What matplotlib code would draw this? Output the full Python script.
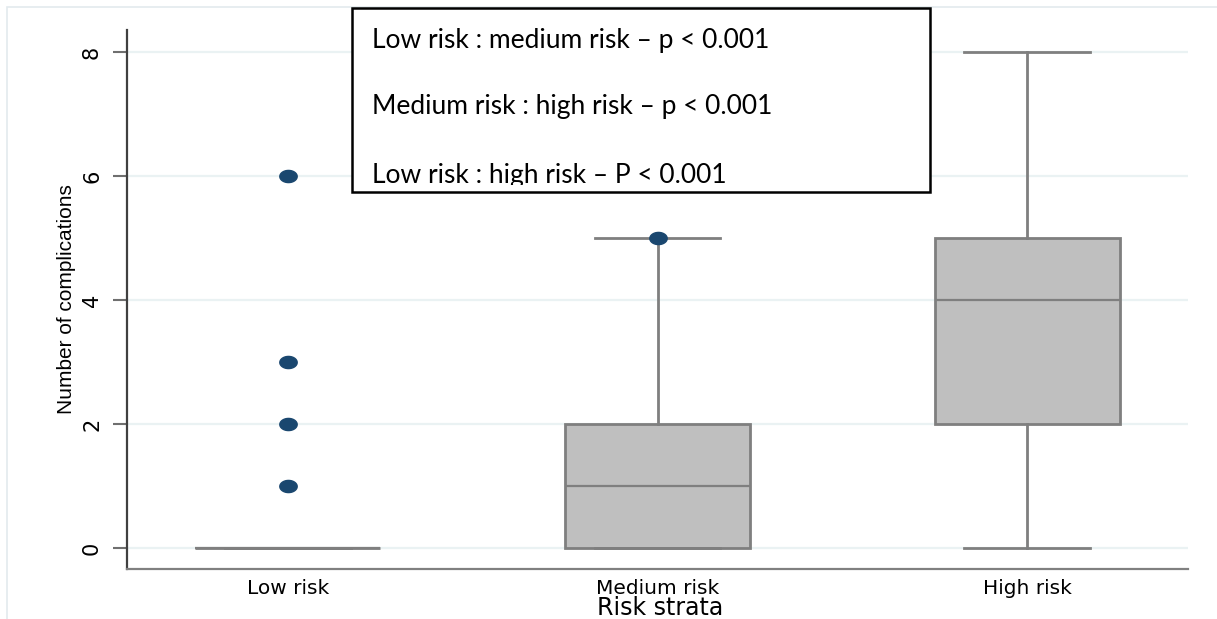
import numpy as np
import matplotlib
matplotlib.use('Agg')
import matplotlib.pyplot as plt
from matplotlib.path import Path
from matplotlib.patches import Rectangle
from matplotlib.transforms import Bbox, TransformedBbox

# Data
categories = ['Low risk', 'Medium risk', 'High risk']
q1 = [0, 0, 2]
median = [0, 1, 4]
q3 = [0, 2, 5]
whisker_lo = [0, 0, 0]
whisker_hi = [0, 5, 8]
outliers = [[1, 2, 3, 6], [5], []]
y_ticks = [0, 2, 4, 6, 8]
notes = ['Low risk : medium risk \u2013 p < 0.001',
         'Medium risk : high risk \u2013 p < 0.001',
         'Low risk : high risk \u2013 P < 0.001']

# Colors
c_box = '#bfbfbf'
c_edge = '#7f7f7f'
c_dot = '#1a476f'
c_grid = '#eaf2f3'

W, H = 1217, 619
fig = plt.figure(figsize=(W / 100, H / 100), dpi=100, facecolor='white')
ax = fig.add_axes([127 / W, 50 / H, (1188 - 127) / W, (589 - 50) / H])

# faint outer frame of the graph region (left and top edges show)
fig.patches.append(Rectangle((7 / W, -0.05), 1.1, 1 - 7 / H + 0.05,
                             transform=fig.transFigure, fill=False,
                             edgecolor='#e3eaee', linewidth=1.2, zorder=0))

stats = []
for i, name in enumerate(categories):
    stats.append(dict(label=name, q1=q1[i], med=median[i], q3=q3[i],
                      whislo=whisker_lo[i], whishi=whisker_hi[i], fliers=outliers[i]))

# ellipse marker (wider than tall)
t = np.linspace(0, 2 * np.pi, 60)
ellipse = Path(np.column_stack([np.cos(t), 0.7 * np.sin(t)]), closed=True)

positions = np.arange(1, len(categories) + 1)
ax.bxp(stats, positions=positions, widths=0.5, capwidths=0.34, patch_artist=True,
       boxprops=dict(facecolor=c_box, edgecolor=c_edge, linewidth=2),
       whiskerprops=dict(color=c_edge, linewidth=2),
       capprops=dict(color=c_edge, linewidth=2),
       medianprops=dict(color=c_edge, linewidth=1.6),
       flierprops=dict(marker=ellipse, markersize=12.5, markerfacecolor=c_dot,
                       markeredgecolor=c_dot, linestyle='none'),
       zorder=3)

ax.set_xlim(0.565, 3.435)
ax.set_ylim(-0.34, 8.355)
ax.set_yticks(y_ticks)
ax.set_yticklabels([str(v) for v in y_ticks], rotation=90, va='center',
                   fontsize=15, family='DejaVu Sans')
ax.set_xticks(positions)
ax.set_xticklabels(categories, fontsize=14.5, family='DejaVu Sans')
ax.tick_params(axis='x', length=0, pad=7)
ax.tick_params(axis='y', length=10, width=1.5, color='#6f6f6f', pad=8)

ax.yaxis.grid(True, color=c_grid, linewidth=1.6, zorder=0)
ax.set_axisbelow(True)

for s in ['top', 'right']:
    ax.spines[s].set_visible(False)
ax.spines['left'].set_color('#404040')
ax.spines['left'].set_linewidth(1.6)
ax.spines['bottom'].set_color('#808080')
ax.spines['bottom'].set_linewidth(1.6)

ax.set_ylabel('Number of complications', fontsize=15, family='Liberation Sans')
ax.yaxis.set_label_coords((76 - 127) / (1188 - 127), 0.5)
ax.set_xlabel('Risk strata', fontsize=17, family='DejaVu Sans')
ax.xaxis.label.set_va('baseline')
ax.xaxis.set_label_coords((660 - 127) / (1188 - 127), -(615 - 569) / (589 - 50))

# annotation box with p-values (third line is cut off inside the box)
bx0, by0, bx1, by1 = 352 / W, 1 - 192 / H, 930 / W, 1 - 8 / H
fig.patches.append(Rectangle((bx0, by0), bx1 - bx0, by1 - by0, transform=fig.transFigure,
                             facecolor='white', edgecolor='black', linewidth=1.8, zorder=5))
clip = TransformedBbox(Bbox([[bx0, 1 - 185 / H], [bx1, by1]]), fig.transFigure)
for line, ypx in zip(notes, [48, 114, 183]):
    txt = fig.text(372 / W, 1 - ypx / H, line, fontsize=19, family='Lato',
                   va='baseline', ha='left', color='black', zorder=6)
    txt.set_clip_box(clip)
    txt.set_clip_on(True)

fig.savefig('out.png', dpi=100, facecolor='white')
